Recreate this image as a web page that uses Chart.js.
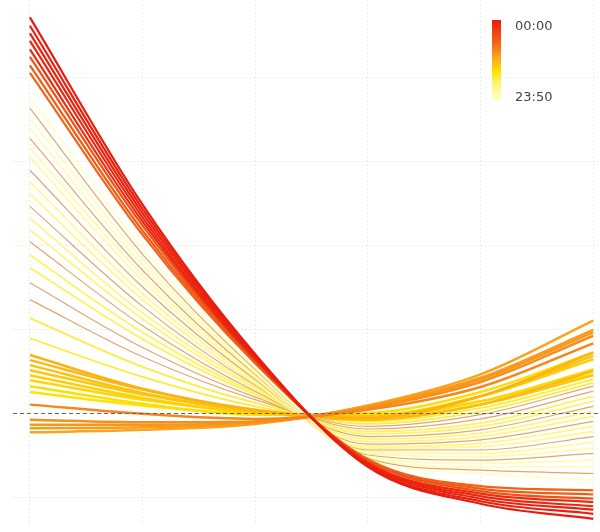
<!DOCTYPE html>
<html lang="en">

<head>
    <meta charset="UTF-8">
    <title>Daily profile lines</title>
    <style>
        body {
            margin: 0;
            background-color: #fff;
        }
    </style>
</head>

<body>
    <canvas id="profile-chart" width="600" height="532"></canvas>
    <script src="https://cdn.jsdelivr.net/npm/chart.js"></script>
    <script>
    // x positions of the samples (one per vertical grid line)
    const xSteps = [0, 1, 2, 3, 4, 5];

    // night lines: start high, end lowest
    const redTimes = ['00:00', '00:20', '00:40', '01:00', '01:30', '05:00', '05:50', '06:40'];
    const redRows = [
        [4.71, 2.48, 0.70, -0.64, -1.08, -1.26],
        [4.61, 2.43, 0.68, -0.63, -1.05, -1.20],
        [4.52, 2.38, 0.67, -0.61, -1.02, -1.15],
        [4.43, 2.33, 0.65, -0.60, -0.99, -1.11],
        [4.33, 2.28, 0.64, -0.59, -0.96, -1.06],
        [4.24, 2.23, 0.62, -0.57, -0.93, -1.02],
        [4.14, 2.17, 0.61, -0.56, -0.90, -0.97],
        [4.05, 2.12, 0.59, -0.55, -0.87, -0.92]
    ];

    // morning lines: start just below zero, rise at the right
    const orangeTimes = ['09:00', '09:30', '10:00', '10:30', '11:00'];
    const orangeRows = [
        [0.10, -0.01, -0.07, 0.04, 0.31, 0.83],
        [-0.08, -0.11, -0.10, 0.06, 0.37, 0.92],
        [-0.14, -0.14, -0.11, 0.07, 0.40, 0.96],
        [-0.18, -0.17, -0.12, 0.08, 0.42, 0.99],
        [-0.23, -0.20, -0.13, 0.09, 0.46, 1.10]
    ];

    // midday band
    const yellowTimes = ['12:00', '12:30', '13:00', '13:30', '14:00', '14:30', '15:00', '15:30'];
    const yellowRows = [
        [0.69, 0.29, 0.04, -0.06, 0.20, 0.72],
        [0.63, 0.28, 0.03, -0.08, 0.10, 0.50],
        [0.57, 0.24, 0.02, -0.04, 0.20, 0.68],
        [0.51, 0.22, 0.02, -0.07, 0.10, 0.45],
        [0.45, 0.18, 0.00, -0.03, 0.20, 0.64],
        [0.39, 0.16, 0.00, -0.05, 0.14, 0.52],
        [0.32, 0.11, -0.02, 0.00, 0.25, 0.72],
        [0.25, 0.09, -0.01, -0.02, 0.14, 0.46]
    ];

    // evening fan
    const paleTimes = ['23:50', '23:20', '23:00', '22:40', '22:20', '22:00', '21:30', '21:00', '20:40', '20:20',
        '20:00', '19:40', '19:20', '19:00', '18:40', '18:20', '18:00', '17:40', '17:20', '17:00'];
    const paleRows = [
        [3.76, 1.96, 0.54, -0.55, -0.72, -0.80],
        [3.63, 1.89, 0.52, -0.54, -0.68, -0.72],
        [3.51, 1.83, 0.50, -0.53, -0.64, -0.64],
        [3.39, 1.76, 0.48, -0.52, -0.60, -0.56],
        [3.27, 1.70, 0.46, -0.50, -0.56, -0.48],
        [3.15, 1.64, 0.44, -0.48, -0.52, -0.42],
        [3.04, 1.58, 0.42, -0.46, -0.48, -0.35],
        [2.89, 1.50, 0.40, -0.44, -0.44, -0.28],
        [2.75, 1.42, 0.38, -0.42, -0.40, -0.22],
        [2.61, 1.35, 0.35, -0.40, -0.36, -0.16],
        [2.46, 1.27, 0.33, -0.37, -0.32, -0.10],
        [2.32, 1.19, 0.31, -0.34, -0.28, -0.04],
        [2.18, 1.12, 0.29, -0.31, -0.24, 0.02],
        [2.04, 1.04, 0.26, -0.28, -0.20, 0.08],
        [1.88, 0.96, 0.24, -0.25, -0.16, 0.14],
        [1.73, 0.88, 0.22, -0.22, -0.12, 0.20],
        [1.55, 0.78, 0.19, -0.19, -0.07, 0.26],
        [1.35, 0.67, 0.16, -0.16, -0.02, 0.32],
        [1.13, 0.55, 0.12, -0.13, 0.02, 0.36],
        [0.89, 0.43, 0.08, -0.10, 0.06, 0.40]
    ];

    const legendLabels = ['00:00', '23:50'];

    // styling
    const tanTimes = new Set(['23:20', '22:20', '21:00', '20:00', '19:00', '18:00', '17:40']);
    const colorStops = [
        [0, [232, 28, 14]],
        [0.3, [244, 104, 22]],
        [0.45, [249, 160, 28]],
        [0.65, [255, 228, 0]],
        [0.8, [255, 244, 120]],
        [1, [255, 255, 200]]
    ];

    function colorAt(t) {
        for (let i = 1; i < colorStops.length; i++) {
            const [t1, c1] = colorStops[i];
            const [t0, c0] = colorStops[i - 1];
            if (t <= t1) {
                const f = (t - t0) / (t1 - t0);
                const c = c0.map((v, k) => Math.round(v + (c1[k] - v) * f));
                return `rgb(${c[0]}, ${c[1]}, ${c[2]})`;
            }
        }
        return 'rgb(255, 255, 200)';
    }

    function timeFraction(label) {
        const [h, m] = label.split(':').map(Number);
        return (h * 60 + m) / 1430;
    }

    function makeDatasets(times, rows, width) {
        return rows.map((row, i) => {
            const tan = tanTimes.has(times[i]);
            return {
                label: times[i],
                data: xSteps.map((x, k) => ({ x: x, y: row[k] })),
                borderColor: tan ? 'rgba(218, 150, 88, 0.85)' : colorAt(timeFraction(times[i])),
                borderWidth: tan ? 1.2 : width,
                pointRadius: 0,
                cubicInterpolationMode: 'monotone',
                fill: false
            };
        });
    }

    // first dataset ends up on top
    const datasets = [
        ...makeDatasets(redTimes, redRows, 2.2),
        ...makeDatasets(orangeTimes, orangeRows, 2.5),
        ...makeDatasets(yellowTimes, yellowRows, 2.5),
        ...makeDatasets(paleTimes, paleRows, 1.8)
    ];

    const zeroLine = {
        id: 'zeroLine',
        afterDatasetsDraw(chart) {
            const { ctx, chartArea, scales } = chart;
            const y = Math.round(scales.y.getPixelForValue(0)) + 0.5;
            ctx.save();
            ctx.strokeStyle = '#666';
            ctx.lineWidth = 1;
            ctx.setLineDash([4, 3]);
            ctx.beginPath();
            ctx.moveTo(chartArea.left, y);
            ctx.lineTo(chartArea.right, y);
            ctx.stroke();
            ctx.restore();
        }
    };

    const colorBar = {
        id: 'colorBar',
        afterDraw(chart) {
            const ctx = chart.ctx;
            const x = 492, top = 20, w = 9, h = 80;
            const grad = ctx.createLinearGradient(0, top, 0, top + h);
            colorStops.forEach(([t, c]) => grad.addColorStop(t, `rgb(${c[0]}, ${c[1]}, ${c[2]})`));
            ctx.save();
            ctx.fillStyle = grad;
            ctx.fillRect(x, top, w, h);
            ctx.fillStyle = '#444';
            ctx.font = '13px "DejaVu Sans"';
            ctx.textBaseline = 'middle';
            ctx.fillText(legendLabels[0], 515, top + 7);
            ctx.fillText(legendLabels[1], 515, top + h - 2);
            ctx.restore();
        }
    };

    const gridStyle = {
        color: '#ececec',
        lineWidth: 1,
        drawTicks: false
    };

    new Chart(document.getElementById('profile-chart'), {
        type: 'line',
        data: { datasets: datasets },
        options: {
            responsive: false,
            animation: false,
            devicePixelRatio: 1,
            layout: { padding: { left: 13, right: 0, top: 0, bottom: 7 } },
            plugins: {
                legend: { display: false },
                tooltip: { enabled: false }
            },
            scales: {
                x: {
                    type: 'linear',
                    min: -0.15,
                    max: 5.06,
                    grid: gridStyle,
                    border: { display: false, dash: [2, 2] },
                    ticks: { display: false },
                    afterBuildTicks: scale => {
                        scale.ticks = xSteps.map(v => ({ value: v }));
                    }
                },
                y: {
                    min: -1.333,
                    max: 4.917,
                    grid: gridStyle,
                    border: { display: false, dash: [2, 2] },
                    ticks: { display: false },
                    afterBuildTicks: scale => {
                        scale.ticks = [-1, 0, 1, 2, 3, 4].map(v => ({ value: v }));
                    }
                }
            }
        },
        plugins: [zeroLine, colorBar]
    });
    </script>
</body>

</html>
